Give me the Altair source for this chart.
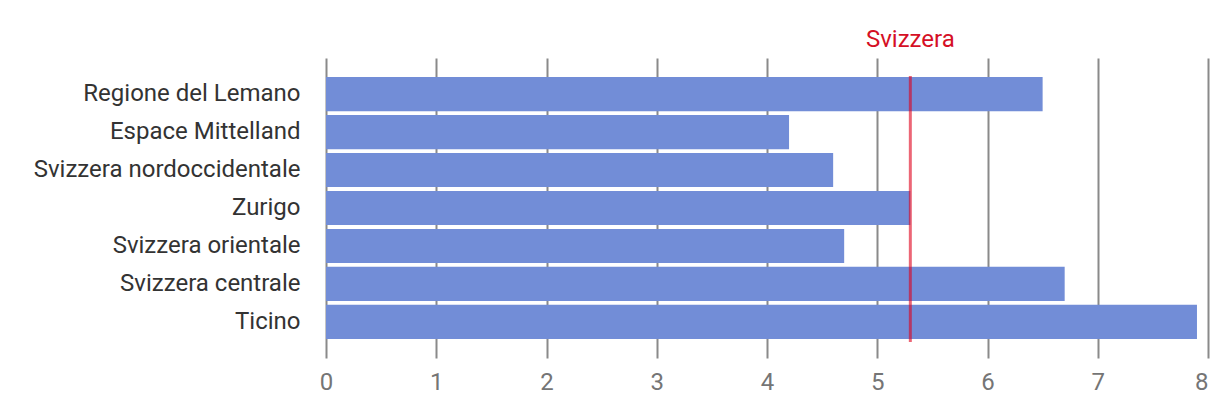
import altair as alt
import pandas as pd

regions = ["Regione del Lemano", "Espace Mittelland", "Svizzera nordoccidentale",
           "Zurigo", "Svizzera orientale", "Svizzera centrale", "Ticino"]
values = [6.5, 4.2, 4.6, 5.3, 4.7, 6.7, 7.9]
reference_label = ["Svizzera"]
reference_value = [5.3]
x_ticks = [0, 1, 2, 3, 4, 5, 6, 7, 8]

df = pd.DataFrame({"region": regions, "value": values})
ref = pd.DataFrame({"label": reference_label, "value": reference_value})

FONT = "Roboto"

x_scale = alt.Scale(domain=[0, 8], nice=False)

bars = alt.Chart(df).mark_bar(color="#728dd7").encode(
    y=alt.Y("region:N", sort=regions, title=None,
            scale=alt.Scale(paddingInner=0.1, paddingOuter=0.5),
            axis=alt.Axis(domain=False, ticks=False, grid=False, labelPadding=26,
                          labelFontSize=24, labelColor="#333333", labelFont=FONT,
                          labelLimit=400)),
    x=alt.X("value:Q", scale=x_scale, title=None,
            axis=alt.Axis(values=x_ticks, domain=False, ticks=False, grid=True,
                          gridColor="#8a8a8a", gridWidth=2, labelPadding=12,
                          labelFlush=False, labelBaseline="top",
                          labelAlign={"expr": "datum.value == 8 ? 'right' : 'center'"},
                          labelFontSize=24, labelColor="#757575", labelFont=FONT,
                          format="d")),
)

rule = alt.Chart(ref).mark_rule(color="#e0001b", opacity=0.6, strokeWidth=3).encode(
    x=alt.X("value:Q", scale=x_scale),
    y=alt.value(18),
    y2=alt.value(284),
)

label = alt.Chart(ref).mark_text(color="#d50f25", fontSize=24, font=FONT,
                                 baseline="middle", align="center").encode(
    x=alt.X("value:Q", scale=x_scale),
    y=alt.value(-18),
    text="label:N",
)

chart = (bars + rule + label).properties(
    width=882, height=300,
    autosize=alt.AutoSizeParams(type="none"),
    padding={"left": 318, "top": 50, "right": 4, "bottom": 40},
).configure_view(stroke=None)

chart.save("out.html", embed_options={"renderer": "svg", "actions": False})
